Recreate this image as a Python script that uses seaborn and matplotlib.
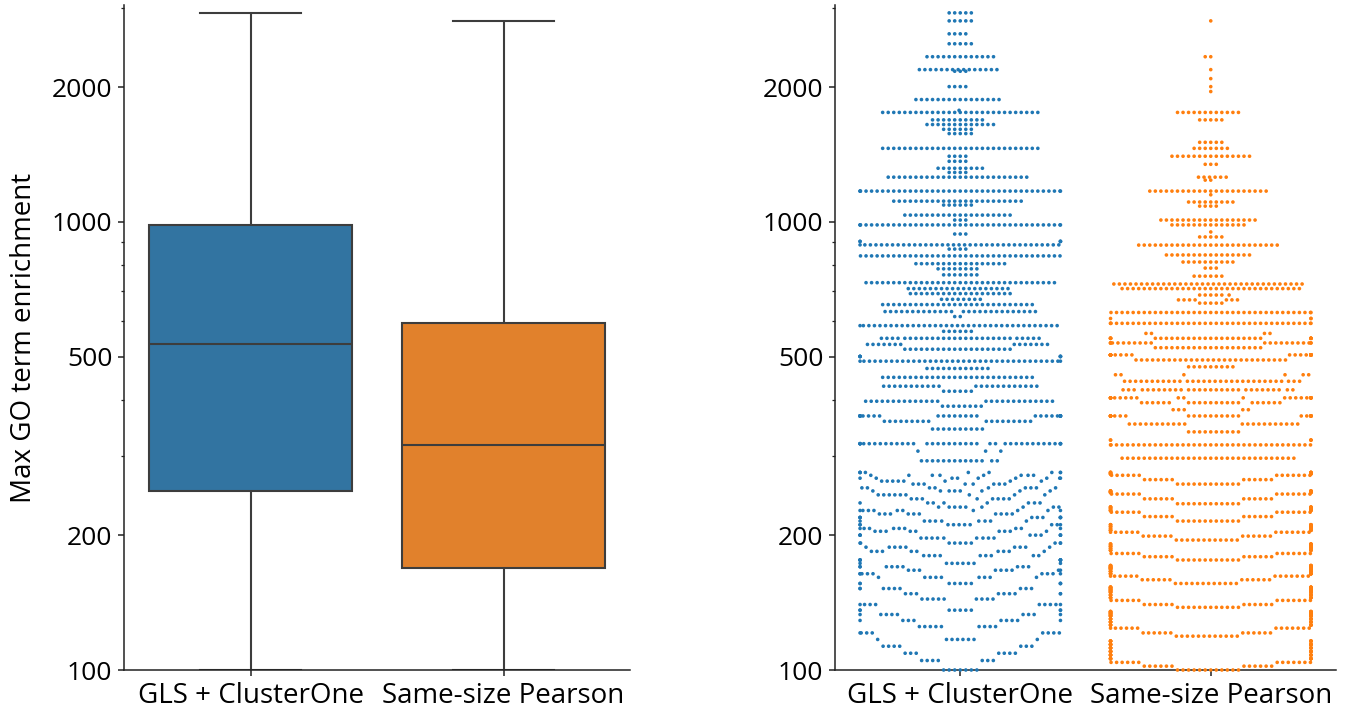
import warnings
warnings.filterwarnings("ignore")
import numpy as np
import pandas as pd
import matplotlib
matplotlib.use("Agg")
import matplotlib.pyplot as plt
from matplotlib.ticker import LogLocator, NullFormatter
import seaborn as sns

# ---------------- data (frequency tables) ----------------
methods = ["GLS + ClusterOne", "Same-size Pearson"]

gls_values = [100, 105, 109, 113, 117,
              121, 125, 129, 133, 136,
              140, 144, 148, 152, 156,
              161, 164, 167, 170, 173,
              176, 180, 184, 188, 192,
              197, 200, 204, 207, 211,
              215, 219, 223, 227, 231,
              236, 241, 246, 251, 255,
              260, 264, 268, 272, 276,
              293, 308, 320, 345, 359, 369, 388, 398, 419, 430, 450, 471, 489, 501, 520,
              533,
              550, 570, 587, 615, 631, 654, 672, 692, 710, 732, 762, 786, 807, 840, 870, 889, 905, 940,
              985, 1010, 1036, 1091, 1113, 1172, 1259, 1290, 1318, 1366, 1402, 1460, 1575, 1610,
              1650, 1690, 1756, 1775, 1876, 2005, 2170, 2188, 2338, 2499, 2630, 2811, 2929]
gls_counts = [7, 7, 7, 7, 8,
              8, 9, 9, 9, 9,
              9, 9, 9, 9, 10,
              9, 9, 9, 9, 8,
              9, 9, 9, 9, 10,
              9, 9, 9, 9, 10,
              9, 10, 10, 10, 9,
              8, 8, 9, 8, 9,
              8, 8, 9, 8, 9,
              14, 3, 40, 10, 18, 28, 8, 27, 6, 23, 28, 12, 38, 8, 20,
              14,
              29, 6, 37, 2, 27, 28, 8, 19, 19, 35, 7, 8, 17, 37, 4, 37, 5, 3,
              40, 3, 20, 6, 24, 40, 26, 4, 9, 4, 4, 29, 5, 6,
              13, 10, 29, 1, 16, 4, 3, 15, 13, 5, 4, 5, 5]

pearson_values = [100, 102, 104, 106, 108, 110, 112, 114, 116,
                  119, 121, 124, 126, 128, 130, 132, 133, 134, 135,
                  138, 140, 143, 145, 147, 149, 150, 151, 152, 153,
                  156, 159, 162, 164, 166, 168, 169, 170, 171,
                  176, 179, 182, 185, 187, 189, 191,
                  195, 199, 203, 205, 207, 209, 211,
                  215, 220, 225, 227, 229, 231,
                  235, 241, 247, 249, 250, 251,
                  260, 266, 272, 274, 276,
                  297, 318, 326, 340, 354, 369, 381, 395, 405, 422, 441, 456, 475, 492, 505,
                  524, 537, 550, 564, 594, 609, 628, 659, 670, 687, 710, 727, 757, 789, 814,
                  844, 888, 926, 950, 985, 1010, 1085, 1108, 1150, 1172, 1240, 1259, 1345,
                  1402, 1460, 1506, 1690, 1756, 1955, 2005, 2089, 2188, 2338, 2811]
pearson_counts = [12, 12, 13, 10, 10, 11, 11, 11, 11,
                  12, 12, 13, 9, 9, 9, 9, 9, 9, 9,
                  12, 12, 13, 8, 8, 8, 8, 8, 9, 9,
                  12, 12, 13, 9, 9, 9, 9, 9, 8,
                  12, 12, 13, 7, 7, 7, 7,
                  12, 12, 13, 7, 6, 6, 6,
                  12, 12, 13, 7, 7, 7,
                  12, 12, 13, 6, 6, 6,
                  12, 12, 13, 8, 8,
                  32, 38, 5, 10, 22, 30, 5, 22, 26, 30, 32, 6, 9, 28, 30,
                  20, 22, 30, 4, 40, 3, 38, 5, 7, 6, 33, 35, 6, 3, 10,
                  16, 26, 5, 1, 14, 18, 4, 9, 1, 22, 2, 6, 3,
                  15, 7, 5, 5, 12, 1, 1, 1, 1, 2, 1]

palette_colors = ["#1f77b4", "#ff7f0e"]
tick_values = [100, 200, 500, 1000, 2000]
tick_labels = ["100", "200", "500", "1000", "2000"]
y_label = "Max GO term enrichment"

# ---------------- build table ----------------
df = pd.DataFrame({
    "method": np.repeat(methods, [sum(gls_counts), sum(pearson_counts)]),
    "enrichment": np.concatenate([np.repeat(gls_values, gls_counts),
                                  np.repeat(pearson_values, pearson_counts)]).astype(float),
})

plt.rcParams["font.family"] = ["Open Sans", "DejaVu Sans"]
plt.rcParams["font.size"] = 20

W, H = 1352, 720
fig = plt.figure(figsize=(W / 100, H / 100), dpi=100)
ax1 = fig.add_axes([124 / W, 50 / H, 506 / W, 665 / H])
ax2 = fig.add_axes([835 / W, 50 / H, 501 / W, 665 / H])

# ---- left: boxplot ----
sns.boxplot(data=df, x="method", y="enrichment", hue="method", order=methods,
            hue_order=methods, palette=palette_colors, log_scale=True, width=0.8,
            linewidth=1.5, linecolor="#3d3d3d", legend=False, ax=ax1)

# ---- right: beeswarm (laid out on a linear scale, then shown on log axis) ----
sns.swarmplot(data=df, x="method", y="enrichment", hue="method", order=methods,
              hue_order=methods, palette=palette_colors, size=2.6, linewidth=1.2,
              edgecolor="none", warn_thresh=1, legend=False, ax=ax2)
ax2.set_xlim(-0.5, 1.5)
ax2.set_ylim(100, 2550)
fig.canvas.draw()
for coll in ax2.collections:
    if "draw" in vars(coll):
        del coll.draw
    coll.set_clip_on(False)
ax2.set_yscale("log")

for ax in (ax1, ax2):
    ax.set_ylim(100, 3050)
    ax.set_xlim(-0.5, 1.5)
    ax.set_yticks(tick_values, tick_labels)
    ax.yaxis.set_minor_locator(LogLocator(base=10, subs=np.arange(2, 10)))
    ax.yaxis.set_minor_formatter(NullFormatter())
    ax.set_xlabel("")
    ax.set_ylabel("")
    for s in ("top", "right"):
        ax.spines[s].set_visible(False)
    for s in ("left", "bottom"):
        ax.spines[s].set_linewidth(1.1)
        ax.spines[s].set_color("#222222")
    ax.tick_params(axis="x", which="major", labelsize=20, length=4.5, width=1.1,
                   color="#222222", pad=4)
    ax.tick_params(axis="y", which="major", labelsize=19, length=4.5, width=1.1,
                   color="#222222", pad=4)
    ax.tick_params(axis="y", which="minor", length=2.5, width=0.9, color="#222222")
    ax.set_facecolor("white")

ax1.set_ylabel(y_label, fontsize=20, labelpad=10)

fig.savefig("out.png", dpi=100, facecolor="white")
